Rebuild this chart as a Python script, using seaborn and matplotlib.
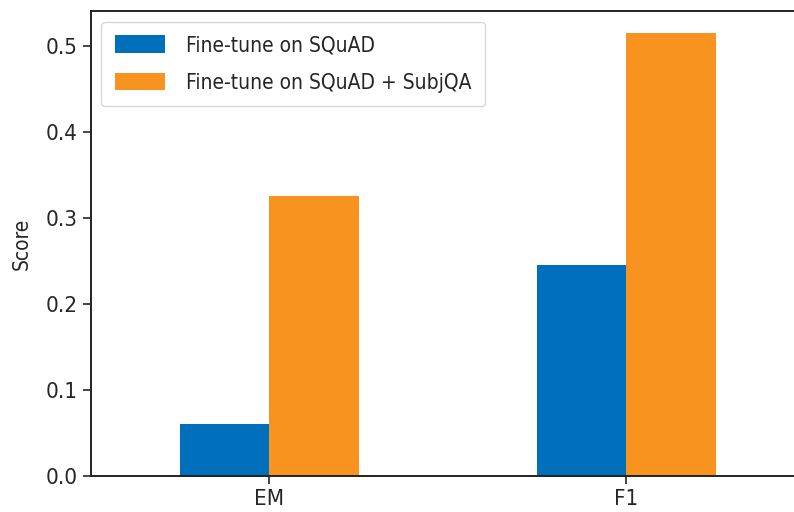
import pandas as pd
import matplotlib.pyplot as plt
import seaborn as sns

# Data
metrics = ['EM', 'F1']
squad_scores = [0.060, 0.245]
subjqa_scores = [0.326, 0.516]
labels = ['Fine-tune on SQuAD', 'Fine-tune on SQuAD + SubjQA']

df = pd.DataFrame({
    'metric': metrics * 2,
    'Score': squad_scores + subjqa_scores,
    'model': [labels[0]] * 2 + [labels[1]] * 2,
})

sns.set_style('ticks')
plt.rcParams['font.family'] = ['DejaVu Sans']
plt.rcParams['font.stretch'] = 'condensed'
plt.rcParams['axes.edgecolor'] = '#222222'
plt.rcParams['axes.linewidth'] = 1.4

fig = plt.figure(figsize=(7.94, 5.12), dpi=100)
ax = fig.add_axes([0.1146, 0.0703, 0.899, 0.908])

sns.barplot(data=df, x='metric', y='Score', hue='model', width=0.5,
            palette=['#0070bc', '#f7931e'], saturation=1, linewidth=0, ax=ax)

ax.set_xlabel('')
ax.set_ylabel('Score', fontsize=15, labelpad=10)
ax.tick_params(labelsize=16, length=6, width=1.2)
ax.set_yticks([0.0, 0.1, 0.2, 0.3, 0.4, 0.5])
ax.set_ylim(0, 0.541)
ax.legend(loc='upper left', fontsize=15, frameon=True, handlelength=2.4,
          handleheight=0.9, borderpad=0.65, labelspacing=0.85,
          handletextpad=1.0, title=None)

plt.savefig('out.png', dpi=100)
